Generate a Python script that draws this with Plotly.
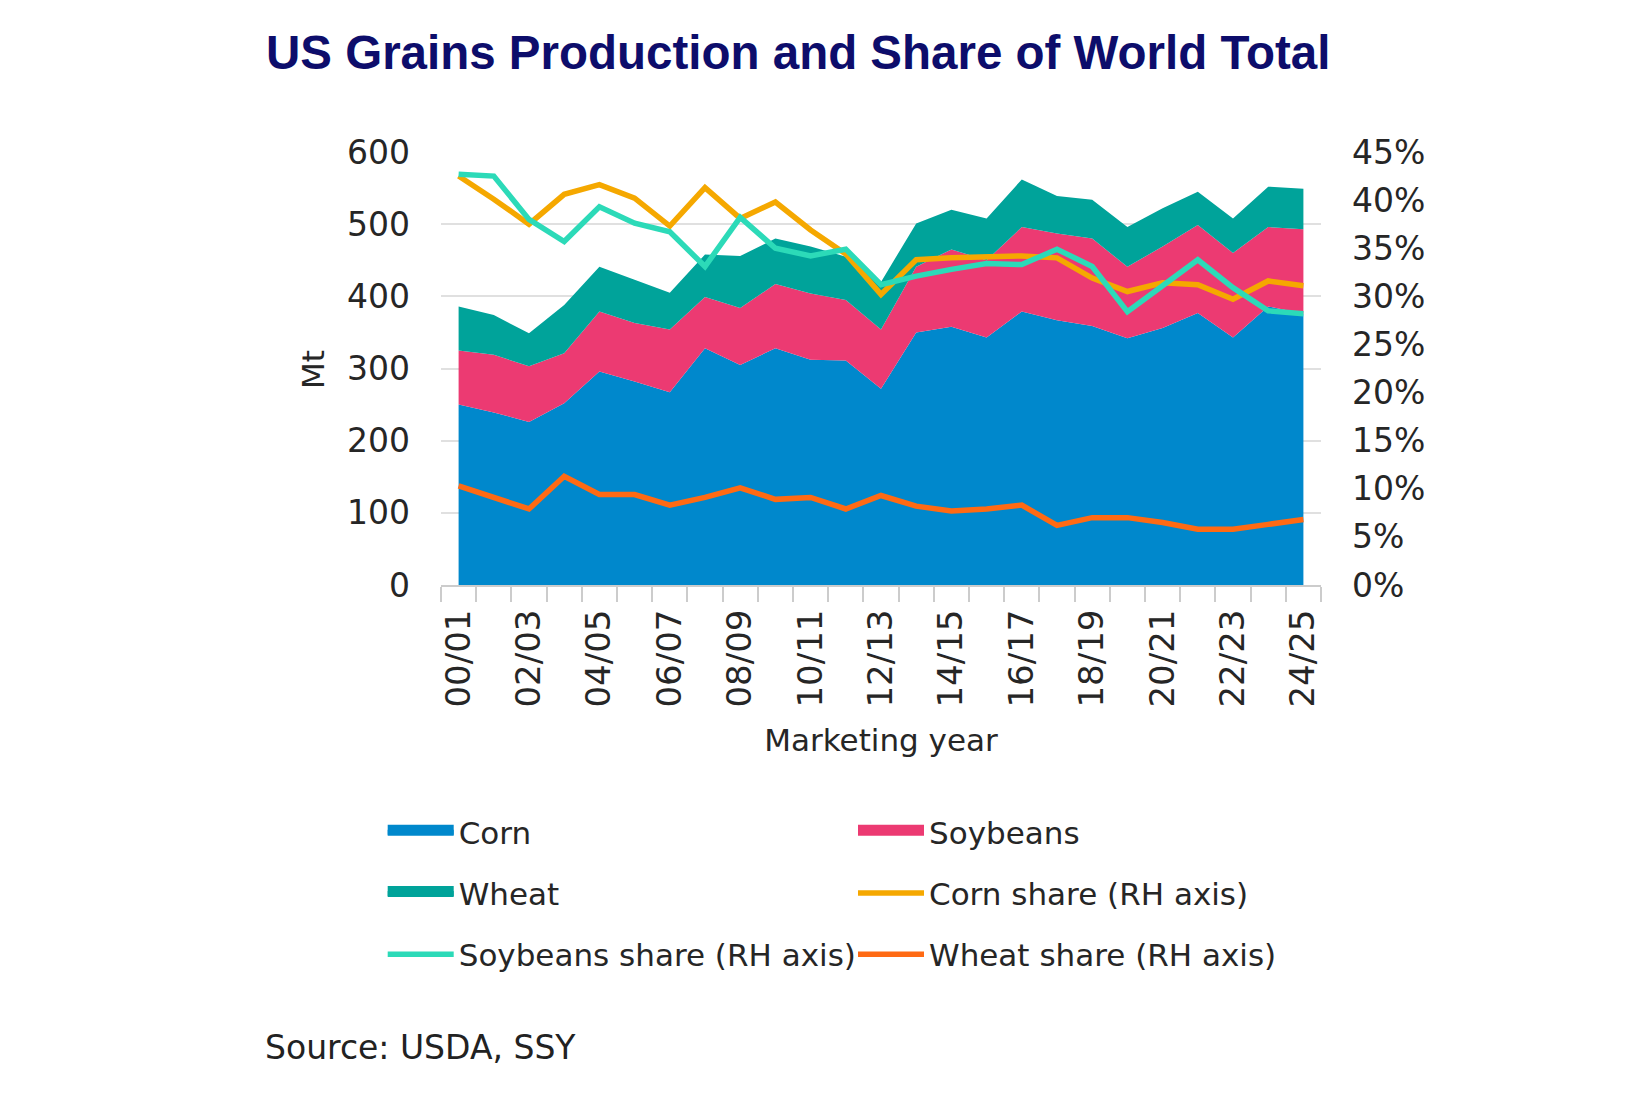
import plotly.graph_objects as go

# Marketing years 00/01 .. 24/25
years = ["00/01", "01/02", "02/03", "03/04", "04/05", "05/06", "06/07", "07/08",
         "08/09", "09/10", "10/11", "11/12", "12/13", "13/14", "14/15", "15/16",
         "16/17", "17/18", "18/19", "19/20", "20/21", "21/22", "22/23", "23/24", "24/25"]
year_labels = [y if i % 2 == 0 else "" for i, y in enumerate(years)]

# Production, Mt (stacked)
corn = [250, 239, 226, 252, 296, 282, 267, 328, 305, 328, 312, 311, 272,
        350, 358, 343, 379, 367, 359, 342, 356, 377, 343, 386, 376]
soybeans = [75, 80, 77, 69, 83, 81, 87, 71, 79, 89, 92, 84, 82,
            91, 107, 107, 117, 120, 121, 99, 113, 122, 117, 110, 117]
wheat = [61, 55, 46, 67, 62, 60, 51, 59, 72, 63, 65, 60, 66,
         60, 55, 58, 66, 52, 54, 55, 53, 46, 48, 56, 56]

# Share of world total, % (RH axis)
corn_share = [42.5, 40.1, 37.5, 40.6, 41.6, 40.2, 37.3, 41.3, 38.1, 39.8, 36.9, 34.4, 30.2,
              33.8, 34.0, 34.1, 34.2, 34.0, 31.9, 30.5, 31.4, 31.2, 29.7, 31.6, 31.1]
soy_share = [42.7, 42.5, 38.0, 35.7, 39.3, 37.6, 36.7, 33.1, 38.2, 35.0, 34.2, 34.9, 31.2,
             32.1, 32.8, 33.4, 33.3, 34.9, 33.1, 28.4, 31.1, 33.8, 30.9, 28.5, 28.2]
wheat_share = [10.3, 9.1, 7.9, 11.3, 9.4, 9.4, 8.3, 9.1, 10.1, 8.9, 9.1, 7.9, 9.3,
               8.2, 7.7, 7.9, 8.3, 6.2, 7.0, 7.0, 6.5, 5.8, 5.8, 6.3, 6.8]

W, H = 1645, 1097
FONT = "DejaVu Sans"
TXT = "#262626"

# plot area in figure pixels (the page adds an 8px body margin)
PL, PT, PR, PB = 433, 144, 1313, 577
PW, PH = PR - PL, PB - PT

fig = go.Figure()

# stacked areas
areas = [("Corn", corn, "#0088CC", "legend"),
         ("Soybeans", soybeans, "#EC3A72", "legend2"),
         ("Wheat", wheat, "#00A39A", "legend")]
for name, vals, col, lg in areas:
    fig.add_trace(go.Scatter(
        x=years, y=vals, name=name, mode="none", stackgroup="prod",
        fillcolor=col, line=dict(width=0, color=col),
        legend=lg, legendgroup=name, showlegend=False, hoverinfo="x+y+name"
    ))

# legend entries: thick swatches for the areas (no data drawn)
for name, vals, col, lg in areas:
    fig.add_trace(go.Scatter(
        x=[None], y=[None], name=name, mode="lines", fill="tozeroy",
        fillcolor=col, line=dict(color=col, width=10),
        legend=lg, legendgroup=name, hoverinfo="skip"
    ))

# share lines on the right axis
lines = [("Corn share (RH axis)", corn_share, "#F5A800", "legend2"),
         ("Soybeans share (RH axis)", soy_share, "#2CDAB8", "legend"),
         ("Wheat share (RH axis)", wheat_share, "#FF6A13", "legend2")]
for name, vals, col, lg in lines:
    fig.add_trace(go.Scatter(
        x=years, y=vals, name=name, mode="lines", yaxis="y2",
        line=dict(color=col, width=5.5), legend=lg, legendgroup=name
    ))

legend_style = dict(
    xref="container", yref="container", xanchor="left", yanchor="top",
    orientation="v", font=dict(family=FONT, size=31, color=TXT),
    itemwidth=66, tracegroupgap=18, bgcolor="rgba(0,0,0,0)", itemclick=False,
    traceorder="grouped"
)

fig.update_layout(
    width=W, height=H,
    margin=dict(l=PL, r=W - PR, t=PT, b=H - PB, autoexpand=False),
    paper_bgcolor="white", plot_bgcolor="white",
    font=dict(family=FONT, size=30, color=TXT),
    title=dict(
        text="<b>US Grains Production and Share of World Total</b>",
        font=dict(family="Liberation Sans", size=47.5, color="#0D0D6B"),
        x=258 / W, xanchor="left", xref="container",
        y=1 - 44.5 / H, yanchor="middle", yref="container"
    ),
    xaxis=dict(
        type="category", range=[-0.5, 24.5],
        tickmode="array", tickvals=years, ticktext=year_labels,
        tickangle=-90, tickson="boundaries",
        ticks="outside", ticklen=15, tickwidth=2, tickcolor="#cccccc",
        showline=True, linecolor="#cccccc", linewidth=2, ticklabelstandoff=9,
        showgrid=False, tickfont=dict(family=FONT, size=34, color=TXT),
        title=dict(text="Marketing year", standoff=23,
                   font=dict(family=FONT, size=31, color=TXT)),
        automargin=False, fixedrange=True
    ),
    yaxis=dict(
        range=[0, 600], dtick=100, showgrid=True, gridcolor="#e0e0e0", gridwidth=2,
        zeroline=False, showline=False, ticks="",
        tickfont=dict(family=FONT, size=33, color=TXT), ticklabelstandoff=30,
        automargin=False, fixedrange=True
    ),
    yaxis2=dict(
        range=[0, 45], dtick=5, ticksuffix="%", overlaying="y", side="right",
        showgrid=False, zeroline=False, showline=False, ticks="",
        tickfont=dict(family=FONT, size=33, color=TXT), ticklabelstandoff=30,
        automargin=False, fixedrange=True
    ),
    legend=dict(x=374.7 / W, y=1 - 797 / H, **legend_style),
    legend2=dict(x=845 / W, y=1 - 797 / H, **legend_style),
    annotations=[
        dict(text="Mt", xref="paper", yref="paper", textangle=-90,
             x=(305 - PL) / PW, y=1 - (362 - PT) / PH, xanchor="center", yanchor="middle",
             showarrow=False, font=dict(family=FONT, size=31, color=TXT)),
        dict(text="Source: USDA, SSY", xref="paper", yref="paper",
             x=(255 - PL) / PW, y=(PB - 1039) / PH, xanchor="left", yanchor="middle",
             showarrow=False, font=dict(family=FONT, size=33, color="#222222")),
    ],
    showlegend=True
)

fig.write_html("out.html")
